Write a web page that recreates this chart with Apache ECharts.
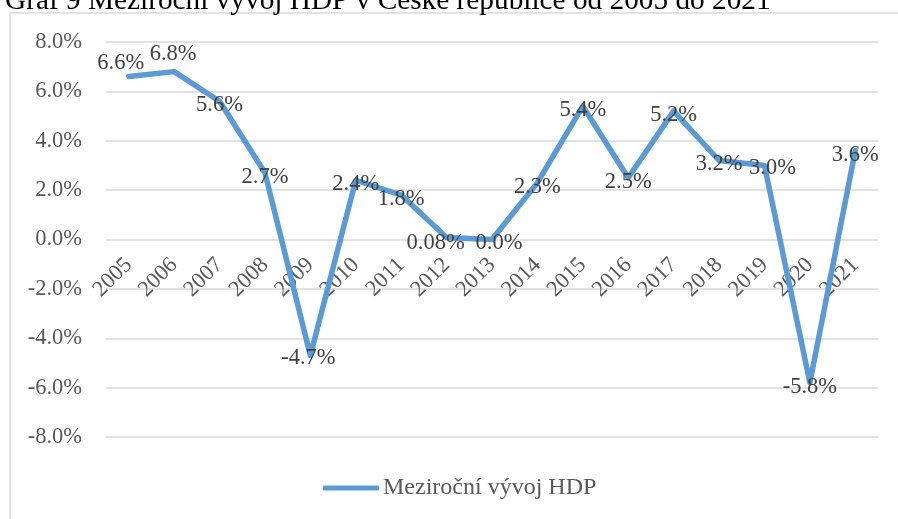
<!DOCTYPE html>
<html>
<head>
<meta charset="utf-8">
<script src="https://cdn.jsdelivr.net/npm/echarts@6/dist/echarts.min.js"></script>
<style>
html,body{margin:0;padding:0;background:#fff;}
#c{width:898px;height:519px;}
</style>
</head>
<body>
<div id="c"></div>
<script>
const titleText = 'Graf 9 Meziroční vývoj HDP v České republice od 2005 do 2021';
const seriesName = 'Meziroční vývoj HDP';
const years = ['2005','2006','2007','2008','2009','2010','2011','2012','2013','2014','2015','2016','2017','2018','2019','2020','2021'];
const gdpGrowth = [6.6, 6.8, 5.6, 2.7, -4.7, 2.4, 1.8, 0.08, 0.0, 2.3, 5.4, 2.5, 5.2, 3.2, 3.0, -5.8, 3.6];
const yTicks = [-8, -6, -4, -2, 0, 2, 4, 6, 8];

// label offsets (layout only)
const labelOffsets = {0: [-8, -13], 1: [-1, -18], 4: [-2, 3], 7: [-11, 6], 8: [7, 4], 14: [8, 3]};

const FONT = "'Liberation Serif','Times New Roman',serif";
const FS = 22.5;

function fmt(v) {
  const s = String(v);
  const dec = s.indexOf('.') >= 0 ? s.split('.')[1].length : 0;
  return v.toFixed(Math.max(1, dec)) + '%';
}

const chart = echarts.init(document.getElementById('c'), null, {renderer: 'canvas'});
chart.setOption({
  backgroundColor: '#fff',
  animation: false,
  title: {
    text: titleText,
    left: 0,
    top: -18,
    textStyle: { fontFamily: FONT, fontSize: 29.3, fontWeight: 'normal', color: '#000' }
  },
  graphic: [{
    type: 'rect',
    shape: { x: 10, y: 13, width: 1000, height: 1000 },
    style: { fill: 'none', stroke: '#d9d9d9', lineWidth: 1.5 },
    z: -1
  }],
  grid: { left: 106, right: 20, top: 42, bottom: 82, containLabel: false },
  legend: {
    data: [seriesName],
    left: 323,
    top: 476,
    padding: 0,
    icon: 'roundRect',
    itemWidth: 56,
    itemHeight: 5,
    itemGap: 10,
    textStyle: { fontFamily: FONT, fontSize: 24, color: '#595959', padding: [0, 0, 0, -1] }
  },
  xAxis: {
    type: 'category',
    data: years,
    boundaryGap: true,
    offset: -197.5,
    axisLine: { show: false, onZero: false },
    axisTick: { show: false },
    axisLabel: {
      interval: 0,
      rotate: 45,
      margin: 22,
      fontFamily: FONT,
      fontSize: FS,
      color: '#595959'
    }
  },
  yAxis: {
    type: 'value',
    min: yTicks[0],
    max: yTicks[yTicks.length - 1],
    interval: 2,
    axisLine: { show: false },
    axisTick: { show: false },
    splitLine: { lineStyle: { color: '#d9d9d9', width: 1.5 } },
    axisLabel: {
      margin: 24,
      fontFamily: FONT,
      fontSize: FS,
      color: '#595959',
      formatter: v => v.toFixed(1) + '%'
    }
  },
  series: [{
    name: seriesName,
    type: 'line',
    data: gdpGrowth,
    symbol: 'circle',
    symbolSize: 0,
    showSymbol: true,
    smooth: false,
    lineStyle: { color: '#5B9BD5', width: 5.5, cap: 'round', join: 'round' },
    itemStyle: { color: '#5B9BD5' },
    labelLayout: function (p) {
      const o = labelOffsets[p.dataIndex] || [0, 4];
      return { dx: o[0], dy: o[1], hideOverlap: false };
    },
    label: {
      show: true,
      position: 'inside',
      fontFamily: FONT,
      fontSize: FS,
      color: '#404040',
      formatter: p => fmt(p.value)
    }
  }]
});
</script>
</body>
</html>
